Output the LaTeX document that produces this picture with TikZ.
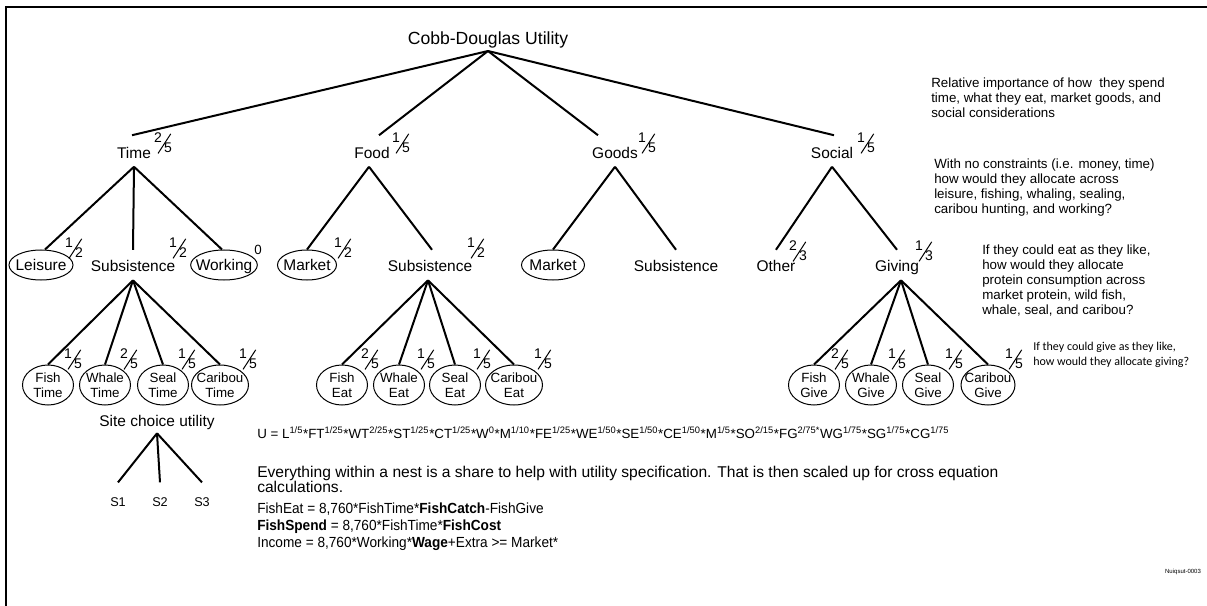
\documentclass[tikz,border=0pt]{standalone}
\usepackage{fontspec}
\setmainfont{Liberation Sans}
\newfontfamily\calib{Carlito}
\usepackage{graphicx}
\usetikzlibrary{shapes.geometric}
\newcommand{\fr}[2]{{\fontsize{10.5}{10.5}\selectfont\raisebox{0.78em}{#1}\kern-0.3em\raisebox{-0.05em}{\rotatebox{57}{\rule{17.5pt}{0.75pt}}}\kern-0.5em#2}}
\newcommand{\narrow}[1]{\scalebox{0.93}[1]{#1}}
\begin{document}
\begin{tikzpicture}[x=0.75pt,y=-0.75pt,
  conn/.style={line width=1.5pt},
  ttl/.style={font=\fontsize{13.2}{15}\selectfont, inner sep=0pt},
  lvone/.style={font=\fontsize{11.6}{14}\selectfont, inner sep=0pt, anchor=base, text height=17.25pt, text depth=6pt},
  lvtwo/.style={font=\fontsize{11.6}{14}\selectfont, inner sep=0pt, anchor=base, text height=16.1pt, text depth=6.4pt},
  ell/.style={ellipse, draw, line width=0.75pt, inner sep=0pt, minimum height=22.5pt},
  elab/.style={font=\fontsize{11.6}{14}\selectfont, inner sep=0pt, text height=8.3pt, text depth=0pt},
  leaf/.style={ellipse, draw, line width=0.75pt, inner sep=0pt, minimum height=30pt, minimum width=38.25pt},
  llab/.style={font=\fontsize{10}{11}\selectfont, inner sep=0pt, align=center},
  frn/.style={inner sep=0pt},
  note/.style={font=\fontsize{10}{11.25}\selectfont, inner sep=0pt, align=left, anchor=north west},
  body/.style={font=\fontsize{11}{12}\selectfont, inner sep=0pt, anchor=base west},
  bodywide/.style={font=\fontsize{11.7}{13}\selectfont, inner sep=0pt, anchor=base west},
  slab/.style={font=\fontsize{9.5}{10}\selectfont, inner sep=0pt, anchor=base, text height=17.5pt, text depth=0pt},
]
\useasboundingbox (0,0) rectangle (1207,606);
\fill[white] (0,0) rectangle (1207,606);
\draw[line width=2pt] (6,606) -- (6,7) -- (1207,7);

% root and level 1
\node[ttl, anchor=south, text depth=5pt] (root) at (488,51) {Cobb-Douglas Utility};
\node[lvone] (time) at (134,158.5) {Time};
\node[lvone] (food) at (372,158.5) {Food};
\node[lvone] (goods) at (615,158.5) {Goods};
\node[lvone] (social) at (832,158.5) {Social};
\node[frn] (ftime) at (163,143) {\fr{2}{5}};
\node[frn] (ffood) at (401,143) {\fr{1}{5}};
\node[frn] (fgoods) at (647,143) {\fr{1}{5}};
\node[frn] (fsocial) at (866,143) {\fr{1}{5}};
\draw[conn] (root.south) -- ([xshift=-1.5pt]time.north);
\draw[conn] (root.south) -- ([xshift=5.25pt]food.north);
\draw[conn] (root.south) -- ([xshift=-12.75pt]goods.north);
\draw[conn] (root.south) -- ([xshift=1.5pt]social.north);

% level 2 - time
\node[ell, minimum width=48pt, label={[elab]center:Leisure}] (leis) at (41,265) {};
\node[lvtwo] (tsub) at (133,271.5) {Subsistence};
\node[ell, minimum width=50pt, label={[elab]center:Working}] (work) at (224,265) {};
\draw[conn] (time.south) -- ([xshift=3pt]leis.north);
\draw[conn] (time.south) -- (tsub.north);
\draw[conn] (time.south) -- ([xshift=-1.5pt]work.north);
\node[frn] (fleis) at (74,248) {\fr{1}{2}};
\node[frn] (ftsub) at (178,248) {\fr{1}{2}};
\node[frn, font=\fontsize{10}{10}\selectfont] (fwork) at (258,250) {0};

% level 2 - food
\node[ell, minimum width=44.25pt, label={[elab]center:Market}] (fmkt) at (307,265) {};
\node[lvtwo] (fsub) at (430,271.5) {Subsistence};
\draw[conn] ([xshift=-2.25pt]food.south) -- (fmkt.north);
\draw[conn] ([xshift=-2.25pt]food.south) -- ([xshift=1.5pt]fsub.north);
\node[frn] (ffmkt) at (343,248) {\fr{1}{2}};
\node[frn] (ffsub) at (476,248) {\fr{1}{2}};

% level 2 - goods
\node[ell, minimum width=47.25pt, label={[elab]center:Market}] (gmkt) at (553,265) {};
\node[lvtwo] (gsub) at (676,271.5) {Subsistence};
\draw[conn] (goods.south) -- (gmkt.north);
\draw[conn] (goods.south) -- (gsub.north);

% level 2 - social
\node[lvtwo] (other) at (776,271.5) {Other};
\node[lvtwo] (giving) at (897,271.5) {Giving};
\draw[conn] (social.south) -- (other.north);
\draw[conn] (social.south) -- (giving.north);
\node[frn] (fother) at (798,251) {\fr{2}{3}};
\node[frn] (fgiving) at (924,251) {\fr{1}{3}};

% leaves - time
\node[leaf, label={[llab]center:Fish\\Time}] (ft) at (48,385) {};
\node[leaf, label={[llab]center:Whale\\Time}] (wt) at (105,385) {};
\node[leaf, label={[llab]center:Seal\\Time}] (st) at (163,385) {};
\node[leaf, minimum width=42.75pt, label={[llab]center:Caribou\\Time}] (ct) at (220,385) {};
\foreach \n in {ft,wt,st,ct} \draw[conn] (tsub.south) -- (\n.north);
\node[frn] (fft) at (73,359) {\fr{1}{5}};
\node[frn] (fwt) at (129,359) {\fr{2}{5}};
\node[frn] (fst) at (187,359) {\fr{1}{5}};
\node[frn] (fct) at (248,359) {\fr{1}{5}};

% leaves - eat
\node[leaf, label={[llab]center:Fish\\Eat}] (fe) at (342,385) {};
\node[leaf, label={[llab]center:Whale\\Eat}] (we) at (399,385) {};
\node[leaf, label={[llab]center:Seal\\Eat}] (se) at (455,385) {};
\node[leaf, minimum width=42.75pt, label={[llab]center:Caribou\\Eat}] (ce) at (514,385) {};
\foreach \n in {fe,we,se,ce} \draw[conn] ([xshift=-1.5pt]fsub.south) -- (\n.north);
\node[frn] (ffe) at (370,359) {\fr{2}{5}};
\node[frn] (fwe) at (426,359) {\fr{1}{5}};
\node[frn] (fse) at (482,359) {\fr{1}{5}};
\node[frn] (fce) at (543,359) {\fr{1}{5}};

% leaves - give
\node[leaf, label={[llab]center:Fish\\Give}] (fg) at (814,385) {};
\node[leaf, label={[llab]center:Whale\\Give}] (wg) at (871,385) {};
\node[leaf, label={[llab]center:Seal\\Give}] (sg) at (928,385) {};
\node[leaf, minimum width=40.5pt, label={[llab]center:Caribou\\Give}] (cg) at (988,385) {};
\foreach \n in {fg,wg,sg,cg} \draw[conn] ([xshift=3pt]giving.south) -- (\n.north);
\node[frn] (ffg) at (840,359) {\fr{2}{5}};
\node[frn] (fwg) at (897,359) {\fr{1}{5}};
\node[frn] (fsg) at (954,359) {\fr{1}{5}};
\node[frn] (fcg) at (1014,359) {\fr{1}{5}};

% site choice
\node[font=\fontsize{11.6}{14}\selectfont, inner sep=0pt, anchor=base, text depth=4.9pt] (site) at (157,426.5) {Site choice utility};
\node[slab] (sa) at (118,506) {S1};
\node[slab] (sb) at (160,506) {S2};
\node[slab] (sc) at (202,506) {S3};
\draw[conn] (site.south) -- (sa.north);
\draw[conn] (site.south) -- (sb.north);
\draw[conn] (site.south) -- (sc.north);

% notes on the right
\node[note] (na) at (931,78) {Relative importance of how\ \ they spend\\time, what they eat, market goods, and\\social considerations};
\node[note] (nb) at (934,159) {With no constraints (i.e. money, time)\\how would they allocate across\\leisure, fishing, whaling, sealing,\\caribou hunting, and working?};
\node[note] (nc) at (982,245) {If they could eat as they like,\\how would they allocate\\protein consumption across\\market protein, wild fish,\\whale, seal, and caribou?};
\node[note, font=\calib\fontsize{9}{11.25}\selectfont] (nd) at (1033,342) {If they could give as they like,\\how would they allocate giving?};

% bottom text
\node[body, font=\fontsize{10}{12}\selectfont] (formula) at (257,438) {U = L\textsuperscript{1/5}*FT\textsuperscript{1/25}*WT\textsuperscript{2/25}*ST\textsuperscript{1/25}*CT\textsuperscript{1/25}*W\textsuperscript{0}*M\textsuperscript{1/10}*FE\textsuperscript{1/25}*WE\textsuperscript{1/50}*SE\textsuperscript{1/50}*CE\textsuperscript{1/50}*M\textsuperscript{1/5}*SO\textsuperscript{2/15}*FG\textsuperscript{2/75*}WG\textsuperscript{1/75}*SG\textsuperscript{1/75}*CG\textsuperscript{1/75}};
\node[bodywide] (every) at (257,477) {Everything within a nest is a share to help with utility specification. That is then scaled up for cross equation};
\node[bodywide] (calc) at (257,492) {calculations.};
\node[body] (feq) at (257,513) {\narrow{FishEat = 8,760*FishTime*\textbf{FishCatch}-FishGive}};
\node[body] (fsq) at (257,530) {\narrow{\textbf{FishSpend} = 8,760*FishTime*\textbf{FishCost}}};
\node[body] (inc) at (257,547) {\narrow{Income = 8,760*Working*\textbf{Wage}+Extra >= Market*}};
\node[inner sep=0pt, font=\fontsize{4.5}{5}\selectfont] (tag) at (1183,572) {Nuiqsut-0003};
\end{tikzpicture}
\end{document}
